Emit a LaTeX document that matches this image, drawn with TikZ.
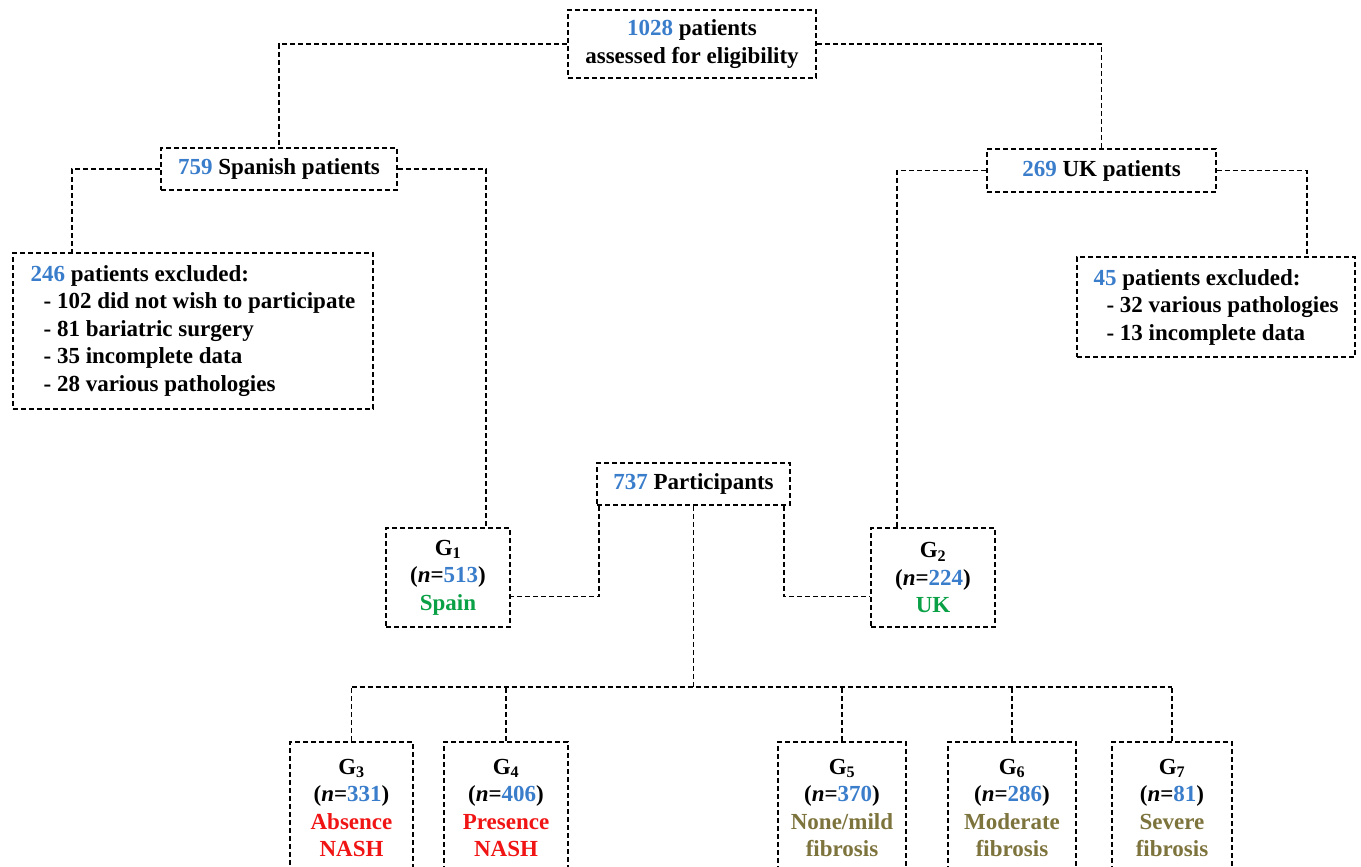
\documentclass[tikz,border=0pt]{standalone}
\usepackage{fontspec}
\setmainfont{Liberation Serif}
\usepackage{xcolor}
\usetikzlibrary{calc, positioning}

\definecolor{numblue}{RGB}{58,125,203}
\definecolor{grpgreen}{RGB}{10,160,70}
\definecolor{grpred}{RGB}{240,20,20}
\definecolor{grpolive}{RGB}{125,115,60}

\newcommand{\bnum}[1]{\textcolor{numblue}{#1}}

\tikzset{
    box/.style = {draw, line width = 1.9pt, dash pattern = on 5pt off 3pt, inner sep = 0pt,
        align = center, font = \fontsize{23}{27.5}\selectfont\bfseries},
    link/.style = {draw, line width = 1.9pt, dash pattern = on 5pt off 3pt},
    grp/.style = {box, minimum width = 124pt, minimum height = 99pt},
    subgrp/.style = {box, anchor = north, minimum height = 132pt}
}

\begin{document}
\begin{tikzpicture}[x = 1pt, y = -1pt]
            \useasboundingbox (0, 0) rectangle (1361, 867);
            \clip (0, 0) rectangle (1361, 867);

            \node[box, minimum width = 248pt, minimum height = 68pt] (total) at (692, 44) {\bnum{1028} patients\\assessed for eligibility};

            \node[box, minimum width = 236pt, minimum height = 42pt] (spain) at (279, 169) {\bnum{759} Spanish patients};
            \node[box, minimum width = 229pt, minimum height = 43pt] (uk) at (1101.5, 170.5) {\bnum{269} UK patients};

            \node[box, align = left, minimum width = 360pt, minimum height = 156pt] (exclSpain) at (193, 331) {\bnum{246} patients excluded:\\\hspace*{13pt}- 102 did not wish to participate\\\hspace*{13pt}- 81 bariatric surgery\\\hspace*{13pt}- 35 incomplete data\\\hspace*{13pt}- 28 various pathologies};
            \node[box, align = left, minimum width = 278pt, minimum height = 100pt] (exclUK) at (1216, 307) {\bnum{45} patients excluded:\\\hspace*{13pt}- 32 various pathologies\\\hspace*{13pt}- 13 incomplete data};

            \node[box, minimum width = 193pt, minimum height = 42pt] (part) at (693.5, 484) {\bnum{737} Participants};

            \node[grp] (g1) at (448, 577.5) {G\textsubscript{1}\\(\textit{n}=\bnum{513})\\\textcolor{grpgreen}{Spain}};
            \node[grp] (g2) at (933, 577.5) {G\textsubscript{2}\\(\textit{n}=\bnum{224})\\\textcolor{grpgreen}{UK}};

            \node[subgrp, minimum width = 123pt] (g3) at (351.5, 741) {G\textsubscript{3}\\(\textit{n}=\bnum{331})\\\textcolor{grpred}{Absence}\\\textcolor{grpred}{NASH}};
            \node[subgrp, minimum width = 124pt] (g4) at (506, 741) {G\textsubscript{4}\\(\textit{n}=\bnum{406})\\\textcolor{grpred}{Presence}\\\textcolor{grpred}{NASH}};
            \node[subgrp, minimum width = 128pt] (g5) at (842, 741) {G\textsubscript{5}\\(\textit{n}=\bnum{370})\\\textcolor{grpolive}{None/mild}\\\textcolor{grpolive}{fibrosis}};
            \node[subgrp, minimum width = 128pt] (g6) at (1012, 741) {G\textsubscript{6}\\(\textit{n}=\bnum{286})\\\textcolor{grpolive}{Moderate}\\\textcolor{grpolive}{fibrosis}};
            \node[subgrp, minimum width = 120pt] (g7) at (1172, 741) {G\textsubscript{7}\\(\textit{n}=\bnum{81})\\\textcolor{grpolive}{Severe}\\\textcolor{grpolive}{fibrosis}};

            \draw[link] (total.west) -| (spain.north);
            \draw[link] (total.east) -| (uk.north);

            \draw[link] (spain.west) -| ($(exclSpain.north west) + (60, 0)$);
            \draw[link] (spain.east) -| ($(g1.north east) + (-25, 0)$);
            \draw[link] (uk.west) -| ($(g2.north west) + (27, 0)$);
            \draw[link] (uk.east) -| ($(exclUK.north east) + (-49, 0)$);

            \draw[link] ($(part.south west) + (3, 0)$) |- ($(g1.east) + (0, 19)$);
            \draw[link] ($(part.south east) + (-7, 0)$) |- ($(g2.west) + (0, 19)$);

            \coordinate (bus) at (693.5, 687);
            \draw[link] (part.south) -- (bus);
            \draw[link] (g3.north |- bus) -- (g7.north |- bus);
            \foreach \g in {g3, g4, g5, g6, g7}
                \draw[link] (\g.north) -- (\g.north |- bus);
        \end{tikzpicture}
\end{document}
